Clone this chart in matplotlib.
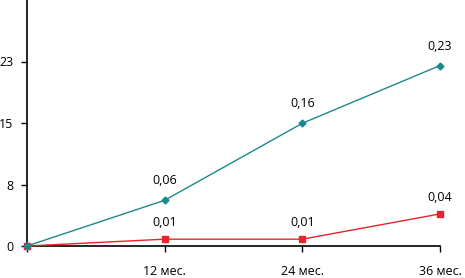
import matplotlib
matplotlib.use("Agg")
import matplotlib.pyplot as plt

plt.rcParams['font.family'] = ['Open Sans', 'DejaVu Sans']

months = [0, 12, 24, 36]
x_labels = ['', '12 мес.', '24 мес.', '36 мес.']
teal_vals = [0, 5.7, 15.3, 22.5]
teal_text = ['', '0,06', '0,16', '0,23']
red_vals = [0, 0.85, 0.85, 4.0]
red_text = ['', '0,01', '0,01', '0,04']
y_ticks = [0, 23 / 3, 46 / 3, 23]
y_labels = ['0', '8', '15', '23']

teal = '#1b8a8c'
red = '#e8232b'

fig = plt.figure(figsize=(4.65, 2.78), dpi=100)
ax = fig.add_axes([27 / 465, 32 / 278, 413 / 465, 246 / 278])

ax.plot(months, red_vals, color=red, lw=1, marker='s', ms=5, clip_on=False, zorder=3)
ax.plot(months, teal_vals, color=teal, lw=1, marker='D', ms=3.5, clip_on=False, zorder=4)

for x, y, t in zip(months, teal_vals, teal_text):
    if t:
        ax.annotate(t, (x, y), xytext=(0, 14), textcoords='offset points',
                    ha='center', va='center', fontsize=9)
for x, y, t in zip(months, red_vals, red_text):
    if t:
        ax.annotate(t, (x, y), xytext=(0, 12), textcoords='offset points',
                    ha='center', va='center', fontsize=9)

ax.set_xlim(0, 36)
ax.set_ylim(0, 92 / 3)
ax.set_xticks(months)
ax.set_xticklabels(x_labels, fontsize=9)
ax.set_yticks(y_ticks)
ax.set_yticklabels(y_labels, fontsize=9)
ax.tick_params(axis='both', length=4, width=1, color='black', pad=6)
ax.tick_params(axis='x', pad=10)

for s in ['top', 'right']:
    ax.spines[s].set_visible(False)
for s in ['left', 'bottom']:
    ax.spines[s].set_linewidth(1.2)

fig.savefig('out.png', dpi=100)
